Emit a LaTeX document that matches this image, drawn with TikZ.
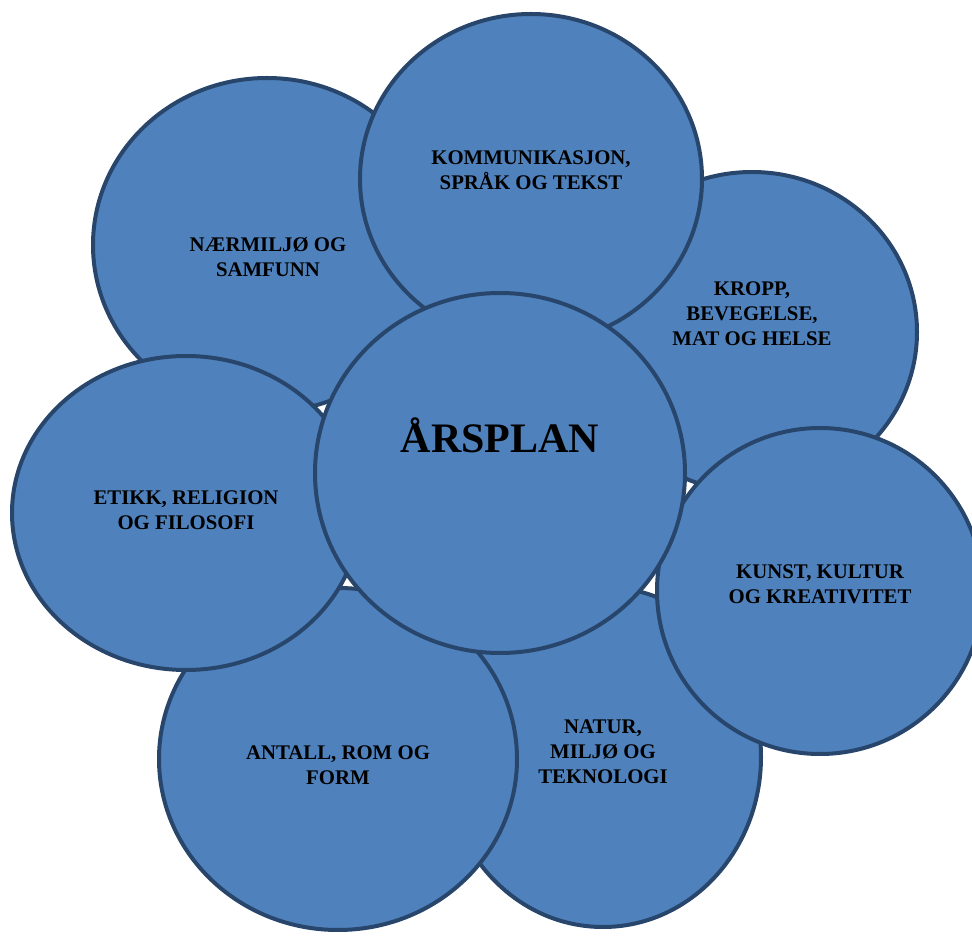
\documentclass[tikz,border=0pt]{standalone}
\usepackage{fontspec}
\setmainfont{Liberation Serif}
\usetikzlibrary{shapes.geometric}
\definecolor{bubfill}{HTML}{4F81BD}
\definecolor{bubline}{HTML}{28466C}
\tikzset{
  bubble/.style={ellipse, draw=bubline, fill=bubfill, line width=3pt, inner sep=0pt},
  lbl/.style={align=center, font=\bfseries\fontsize{15.6}{18.9}\selectfont, text=black, inner sep=0pt},
  bigl/.style={font=\bfseries\fontsize{31.5}{36}\selectfont, text=black, inner sep=0pt}
}
\newcommand\mybub[6]{\node[bubble, minimum width={#4*1.5pt}, minimum height={#5*1.5pt}] (#1) at (#2,#3) {};}
\begin{document}
\begin{tikzpicture}[x=0.75pt, y=-0.75pt]
\useasboundingbox (0,0) rectangle (972,937);
\clip (0,0) rectangle (972,937);
\mybub{naer}{267}{245}{174}{167}{}
\mybub{kropp}{752}{332}{165}{160}{}
\mybub{komm}{531}{179}{171}{165}{}
\mybub{natur}{603}{757}{158}{170}{}
\mybub{antall}{338}{759}{179}{171}{}
\mybub{etikk}{186}{513}{174}{157}{}
\mybub{kunst}{820}{591}{163}{163}{}
\mybub{aars}{500}{473}{185}{180}{}
\node[lbl] (tnaer) at (268,257) {NÆRMILJØ OG\\SAMFUNN};
\node[lbl] (tkomm) at (531,170) {KOMMUNIKASJON,\\SPRÅK OG TEKST};
\node[lbl] (tkropp) at (752,314) {KROPP,\\BEVEGELSE,\\MAT OG HELSE};
\node[bigl] (taars) at (500,435) {ÅRSPLAN};
\node[lbl] (tetikk) at (186,510) {ETIKK, RELIGION\\OG FILOSOFI};
\node[lbl] (tkunst) at (820,584) {KUNST, KULTUR\\OG KREATIVITET};
\node[lbl] (tnatur) at (603,752) {NATUR,\\MILJØ OG\\TEKNOLOGI};
\node[lbl] (tantall) at (338,765) {ANTALL, ROM OG\\FORM};
\end{tikzpicture}
\end{document}
